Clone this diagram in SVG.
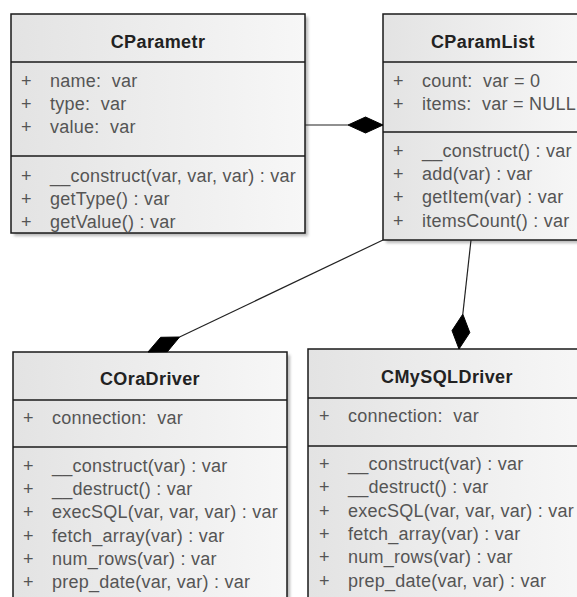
<svg xmlns="http://www.w3.org/2000/svg" width="577" height="597" viewBox="0 0 577 597">
<defs>
<linearGradient id="g" x1="0" y1="0" x2="1" y2="0">
<stop offset="0" stop-color="#e3e3e3"/>
<stop offset="1" stop-color="#f7f7f7"/>
</linearGradient>
<filter id="sh" x="-10%" y="-10%" width="120%" height="120%">
<feGaussianBlur stdDeviation="1.5"/>
</filter>
</defs>
<style>
.box{fill:url(#g);stroke:#1a1a1a;stroke-width:1.5}
.shadow{fill:#9a9a9a;opacity:0.7;filter:url(#sh)}
.sep{stroke:#1a1a1a;stroke-width:1.5}
.title{font-family:"Liberation Sans",Arial,sans-serif;font-size:18px;letter-spacing:0.4px;font-weight:bold;fill:#222;text-anchor:middle}
.m{font-family:"Liberation Sans",Arial,sans-serif;font-size:18px;letter-spacing:0.25px;fill:#555;white-space:pre}
.conn{stroke:#222;stroke-width:1.2;fill:none}
.dia{fill:#000;stroke:#000;stroke-width:1}
</style>
<rect width="577" height="597" fill="#fff"/>

<g id="CParametr">
<rect class="shadow" x="14" y="17" width="294" height="219"/>
<rect class="box" x="11" y="14" width="294" height="219"/>
<line class="sep" x1="11" y1="62" x2="305" y2="62"/>
<line class="sep" x1="11" y1="156" x2="305" y2="156"/>
<text class="title" x="158" y="48">CParametr</text>
<text class="m" x="21" y="87">+</text><text class="m" x="50" y="87">name:  var</text>
<text class="m" x="21" y="110">+</text><text class="m" x="50" y="110">type:  var</text>
<text class="m" x="21" y="133">+</text><text class="m" x="50" y="133">value:  var</text>
<text class="m" x="21" y="182">+</text><text class="m" x="50" y="182">__construct(var, var, var) : var</text>
<text class="m" x="21" y="205">+</text><text class="m" x="50" y="205">getType() : var</text>
<text class="m" x="21" y="228">+</text><text class="m" x="50" y="228">getValue() : var</text>
</g>

<g id="CParamList">
<rect class="shadow" x="386" y="17" width="200" height="226"/>
<rect class="box" x="383" y="14" width="200" height="226"/>
<line class="sep" x1="383" y1="62" x2="583" y2="62"/>
<line class="sep" x1="383" y1="132" x2="583" y2="132"/>
<text class="title" x="483" y="48">CParamList</text>
<text class="m" x="393" y="87">+</text><text class="m" x="422" y="87">count:  var = 0</text>
<text class="m" x="393" y="110">+</text><text class="m" x="422" y="110">items:  var = NULL</text>
<text class="m" x="393" y="157">+</text><text class="m" x="422" y="157">__construct() : var</text>
<text class="m" x="393" y="180">+</text><text class="m" x="422" y="180">add(var) : var</text>
<text class="m" x="393" y="203">+</text><text class="m" x="422" y="203">getItem(var) : var</text>
<text class="m" x="393" y="227">+</text><text class="m" x="422" y="227">itemsCount() : var</text>
</g>

<g id="COraDriver">
<rect class="shadow" x="16" y="355" width="274" height="260"/>
<rect class="box" x="13" y="352" width="274" height="260"/>
<line class="sep" x1="13" y1="400" x2="287" y2="400"/>
<line class="sep" x1="13" y1="447" x2="287" y2="447"/>
<text class="title" x="150" y="385">COraDriver</text>
<text class="m" x="23" y="424">+</text><text class="m" x="52" y="424">connection:  var</text>
<text class="m" x="23" y="472">+</text><text class="m" x="52" y="472">__construct(var) : var</text>
<text class="m" x="23" y="495">+</text><text class="m" x="52" y="495">__destruct() : var</text>
<text class="m" x="23" y="518">+</text><text class="m" x="52" y="518">execSQL(var, var, var) : var</text>
<text class="m" x="23" y="542">+</text><text class="m" x="52" y="542">fetch_array(var) : var</text>
<text class="m" x="23" y="565">+</text><text class="m" x="52" y="565">num_rows(var) : var</text>
<text class="m" x="23" y="588">+</text><text class="m" x="52" y="588">prep_date(var, var) : var</text>
</g>

<g id="CMySQLDriver">
<rect class="shadow" x="311" y="352" width="278" height="260"/>
<rect class="box" x="308" y="349" width="278" height="260"/>
<line class="sep" x1="308" y1="398" x2="586" y2="398"/>
<line class="sep" x1="308" y1="446" x2="586" y2="446"/>
<text class="title" x="447" y="383">CMySQLDriver</text>
<text class="m" x="319" y="422">+</text><text class="m" x="348" y="422">connection:  var</text>
<text class="m" x="319" y="470">+</text><text class="m" x="348" y="470">__construct(var) : var</text>
<text class="m" x="319" y="493">+</text><text class="m" x="348" y="493">__destruct() : var</text>
<text class="m" x="319" y="517">+</text><text class="m" x="348" y="517">execSQL(var, var, var) : var</text>
<text class="m" x="319" y="540">+</text><text class="m" x="348" y="540">fetch_array(var) : var</text>
<text class="m" x="319" y="563">+</text><text class="m" x="348" y="563">num_rows(var) : var</text>
<text class="m" x="319" y="587">+</text><text class="m" x="348" y="587">prep_date(var, var) : var</text>
</g>

<g id="connectors">
<line class="conn" x1="305" y1="125" x2="348" y2="125"/>
<polygon class="dia" points="383,125 365.5,117 348,125 365.5,133"/>
<line class="conn" x1="383" y1="240" x2="179.6" y2="337"/>
<polygon class="dia" points="148,352 167.4,351.7 179.6,337 160.6,337.3"/>
<line class="conn" x1="471" y1="240" x2="462.8" y2="314.2"/>
<polygon class="dia" points="459,349 469.8,332.6 462.8,314.2 452,330.6"/>
</g>
</svg>
